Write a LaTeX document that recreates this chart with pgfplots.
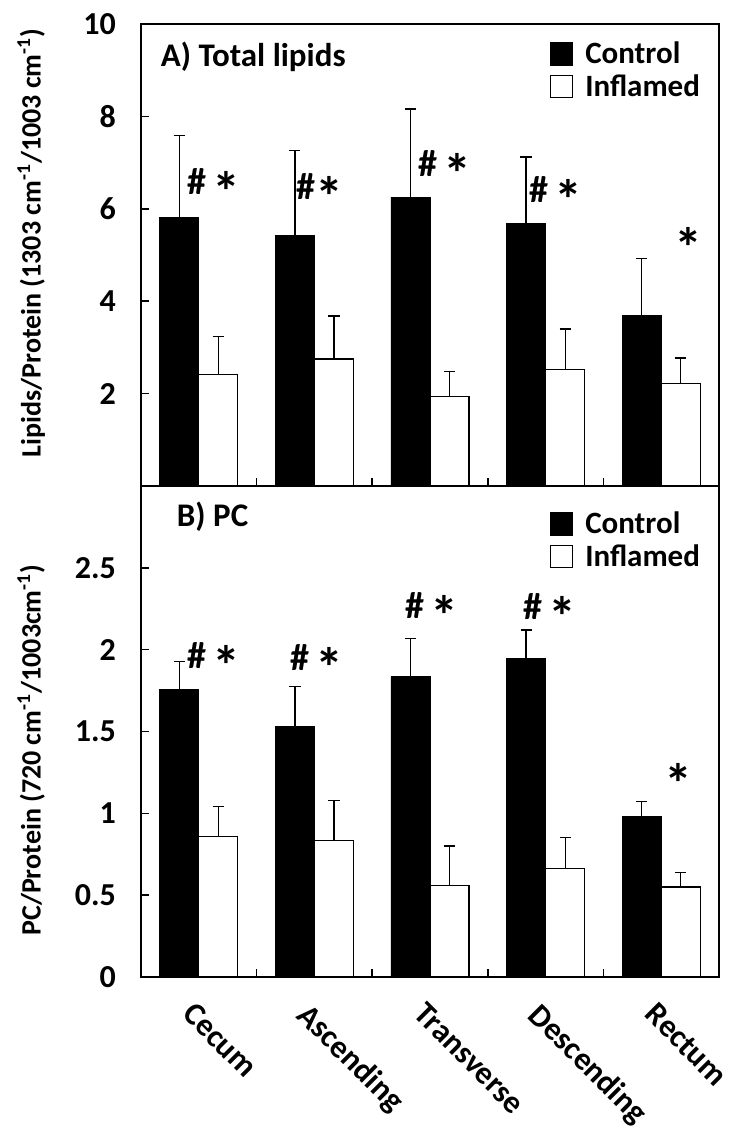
\documentclass[border=0pt]{standalone}
\usepackage{pgfplots}
\pgfplotsset{compat=1.18}
\usepackage{pgfplotstable}
\usepackage{fontspec}
\setmainfont{Carlito}

% x: 0 Cecum, 1 Ascending, 2 Transverse, 3 Descending, 4 Rectum
\pgfplotstableread{
x ctl ctlerr inf inferr
0 5.82 1.76 2.42 0.81
1 5.43 1.84 2.75 0.93
2 6.25 1.91 1.93 0.54
3 5.69 1.43 2.53 0.87
4 3.70 1.23 2.21 0.56
}\lipids
\pgfplotstableread{
x ctl ctlerr inf inferr
0 1.756 0.174 0.860 0.180
1 1.530 0.245 0.835 0.245
2 1.835 0.235 0.560 0.240
3 1.945 0.175 0.665 0.185
4 0.980 0.090 0.550 0.090
}\pc

\newcommand{\tickfont}{\fontsize{16}{18}\selectfont\bfseries}
\newcommand{\mk}{\fontsize{19}{21}\selectfont\bfseries}
\newcommand{\sig}{\raisebox{-8.5pt}{\fontsize{28}{28}\selectfont *}}

\pgfplotsset{
  panel/.style={
    scale only axis, width=289pt,
    ybar=0pt, bar width=19.5pt,
    xmin=-0.5, xmax=4.5,
    xtick={0.5,1.5,2.5,3.5}, xticklabels={},
    ytick pos=left, xtick pos=lower,
    tick align=inside, major tick length=4pt,
    axis line style={line width=1pt},
    tick style={line width=0.8pt, black},
    /pgf/number format/assume math mode=true,
    tick label style={font=\tickfont},
    yticklabel style={xshift=-9pt},
    ylabel style={font=\fontsize{14}{16}\selectfont\bfseries, anchor=center},
    legend style={draw=none, fill=none, font=\fontsize{15.5}{17}\selectfont\bfseries,
      at={(rel axis cs:0.985,0.98)}, anchor=north east, row sep=0pt},
    legend cell align=left,
    legend image code/.code={\draw[#1, draw=black, line width=0.6pt] (0pt,-5.5pt) rectangle (11pt,5.5pt); \path (15pt,0pt);},
  },
  ctlbar/.style={fill=black, draw=black,
    error bars/.cd, y dir=plus, y explicit,
    error bar style={line width=0.6pt, black},
    error mark options={rotate=90, mark size=2.8pt, line width=0.6pt, black}},
  infbar/.style={fill=white, draw=black, line width=0.6pt,
    error bars/.cd, y dir=plus, y explicit,
    error bar style={line width=0.6pt, black},
    error mark options={rotate=90, mark size=2.8pt, line width=0.6pt, black}},
}

\begin{document}
\begin{tikzpicture}
\path[use as bounding box] (0,0) rectangle (372pt,564pt);

\begin{axis}[panel,
  at={(70.5pt,321pt)}, anchor=south west, height=231pt,
  ymin=0, ymax=10, ytick={2,4,6,8,10},
  ylabel={Lipids/Protein (1303 cm\textsuperscript{-1}/1003 cm\textsuperscript{-1})},
  ylabel style={at={(axis description cs:-0.19,0.526)}},
]
\addplot[ctlbar] table[x=x, y=ctl, y error=ctlerr]{\lipids};
\addplot[infbar] table[x=x, y=inf, y error=inferr]{\lipids};
\legend{Control,Inflamed}
\node[anchor=west, font=\fontsize{16.5}{18}\selectfont\bfseries] at (rel axis cs:0.022,0.929) {A) Total lipids};
\node[font=\mk] at (axis cs:0.13,6.4) {\#\,\sig};
\node[font=\mk] at (axis cs:1.05,6.3) {\#\sig};
\node[font=\mk] at (axis cs:2.13,6.8) {\#\,\sig};
\node[font=\mk] at (axis cs:3.09,6.23) {\#\,\sig};
\node[font=\mk] at (axis cs:4.24,5.17) {\sig};
\end{axis}

\begin{axis}[panel,
  at={(70.5pt,75.5pt)}, anchor=south west, height=245.5pt,
  ymin=0, ymax=3, ytick={0,0.5,1,1.5,2,2.5},
  ylabel={PC/Protein (720 cm\textsuperscript{-1}/1003cm\textsuperscript{-1})},
  ylabel style={at={(axis description cs:-0.19,0.462)}},
  legend style={at={(rel axis cs:0.985,0.965)}},
  extra x ticks={0,1,2,3,4},
  extra x tick labels={Cecum,Ascending,Transverse,Descending,Rectum},
  extra x tick style={major tick length=0pt,
    tick label style={rotate=-45, anchor=north west, font=\tickfont, xshift=4pt, yshift=-6pt}},
]
\addplot[ctlbar] table[x=x, y=ctl, y error=ctlerr]{\pc};
\addplot[infbar] table[x=x, y=inf, y error=inferr]{\pc};
\legend{Control,Inflamed}
\node[anchor=west, font=\fontsize{16.5}{18}\selectfont\bfseries] at (rel axis cs:0.05,0.937) {B) PC};
\node[font=\mk] at (axis cs:0.13,1.91) {\#\,\sig};
\node[font=\mk] at (axis cs:1.02,1.90) {\#\,\sig};
\node[font=\mk] at (axis cs:2.02,2.22) {\#\,\sig};
\node[font=\mk] at (axis cs:3.04,2.21) {\#\,\sig};
\node[font=\mk] at (axis cs:4.15,1.18) {\sig};
\end{axis}
\end{tikzpicture}
\end{document}
